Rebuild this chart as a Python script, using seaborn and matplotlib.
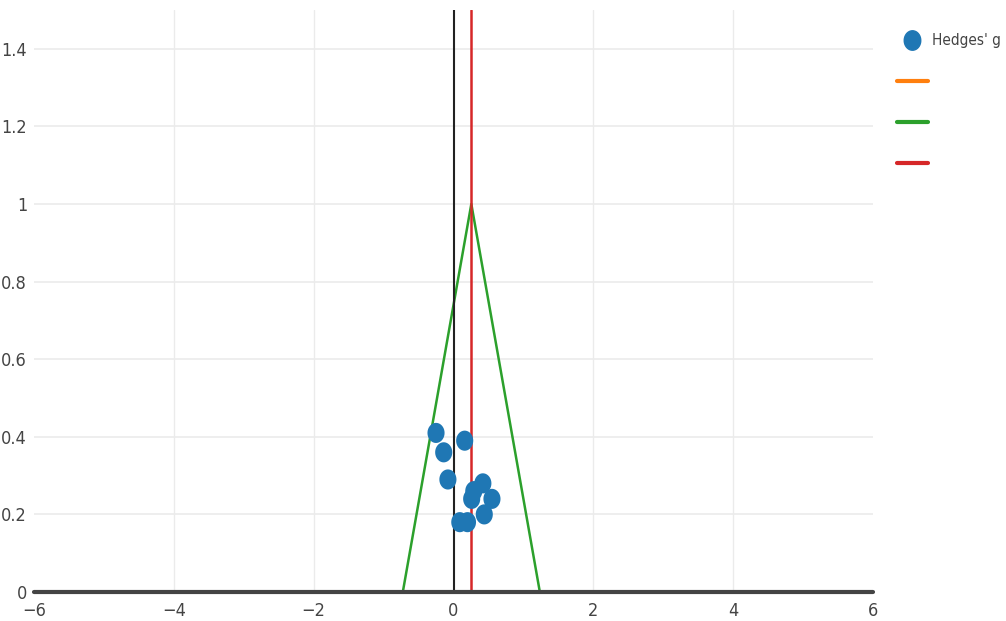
import matplotlib
matplotlib.use("Agg")
import matplotlib.pyplot as plt
from matplotlib.lines import Line2D
import seaborn as sns
import pandas as pd
import numpy as np

# study effects (Hedges' g) and their y values
hedges_g = [-0.25, -0.14, -0.08, 0.16, 0.42, 0.55, 0.29, 0.26, 0.44, 0.09, 0.20]
y_vals = [0.41, 0.36, 0.29, 0.39, 0.28, 0.24, 0.26, 0.24, 0.20, 0.18, 0.18]

# funnel outline and pooled estimate
funnel_x = [-0.725, 0.255, 1.235]
funnel_y = [0.0, 1.0, 0.0]
pooled = 0.255

x_ticks = [-6, -4, -2, 0, 2, 4, 6]
y_ticks = [0, 0.2, 0.4, 0.6, 0.8, 1, 1.2, 1.4]
y_tick_labels = ["0", "0.2", "0.4", "0.6", "0.8", "1", "1.2", "1.4"]

BLUE = "#1f77b4"
ORANGE = "#ff7f0e"
GREEN = "#2ca02c"
RED = "#d62728"

sns.set_style("white")
plt.rcParams["font.family"] = ["DejaVu Sans"]
plt.rcParams["font.stretch"] = "condensed"

# slightly tall oval marker, like the squashed dots in the reference
t = np.linspace(0, 2 * np.pi, 40)
oval = list(zip(0.85 * np.cos(t), np.sin(t)))

df = pd.DataFrame({"g": hedges_g, "y": y_vals})

fig = plt.figure(figsize=(10.06, 6.21), dpi=100)
ax = fig.add_axes([34 / 1006, 1 - 592 / 621, (873 - 34) / 1006, (592 - 10) / 621])

# grid
for yt in y_ticks[1:]:
    ax.axhline(yt, color="#ebebeb", lw=1.2, zorder=0)
for xt in x_ticks[1:-1]:
    if xt != 0:
        ax.axvline(xt, color="#ebebeb", lw=1.0, zorder=0)

ax.plot(funnel_x, funnel_y, color=GREEN, lw=1.8, zorder=2)
ax.axvline(0, color="#222222", lw=1.5, zorder=2)
ax.axvline(pooled, color=RED, lw=1.8, zorder=2)

sns.scatterplot(data=df, x="g", y="y", ax=ax, color=BLUE, s=210, marker=oval,
                edgecolor="none", zorder=3, legend=False)

ax.axhline(0, color="#444444", lw=3, zorder=4, clip_on=False)

ax.set_xlim(-6, 6)
ax.set_ylim(0, 1.5)
ax.set_xticks(x_ticks)
ax.set_xticklabels(["\u22126", "\u22124", "\u22122", "0", "2", "4", "6"])
ax.set_yticks(y_ticks)
ax.set_yticklabels(y_tick_labels)
ax.tick_params(axis="x", length=0, labelsize=13, colors="#444444", pad=7)
ax.tick_params(axis="y", length=0, labelsize=13, colors="#444444", pad=5)
ax.set_xlabel("")
ax.set_ylabel("")
for s in ax.spines.values():
    s.set_visible(False)

handles = [
    Line2D([], [], marker=oval, color=BLUE, linestyle="none", markersize=14),
    Line2D([], [], color=ORANGE, lw=3),
    Line2D([], [], color=GREEN, lw=3),
    Line2D([], [], color=RED, lw=3),
]
labels = ["Hedges' g", "", "", ""]
fig.legend(handles, labels, loc="upper left", bbox_to_anchor=(891 / 1006, 1 - 27 / 621),
           frameon=False, prop={"size": 11, "stretch": "condensed"},
           labelcolor="#444444", labelspacing=1.7,
           handlelength=2.0, handletextpad=0.3, borderaxespad=0)

fig.savefig("out.png", dpi=100)
